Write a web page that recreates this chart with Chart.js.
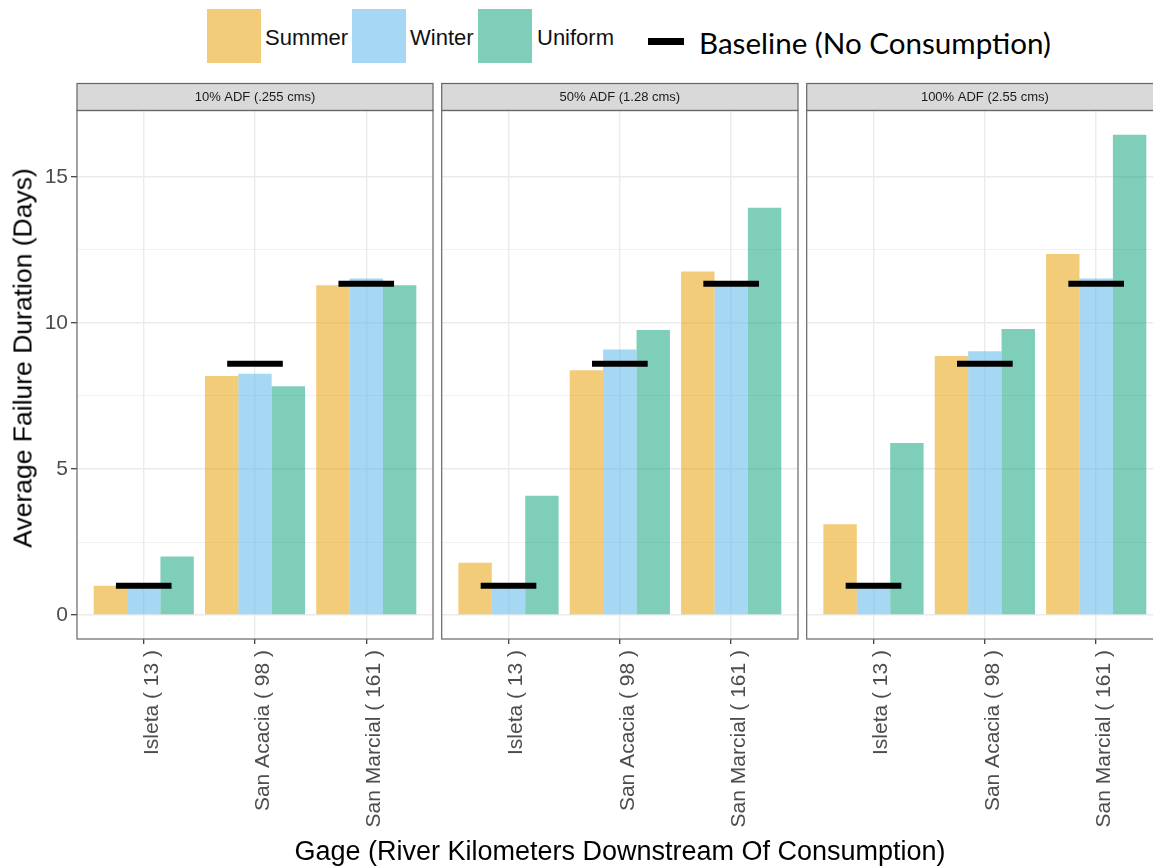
<!DOCTYPE html>
<html lang="en">
<head>
<meta charset="UTF-8" />
<title>Average Failure Duration</title>
<script src="https://cdn.jsdelivr.net/npm/chart.js@4"></script>
<style>
  html, body { margin: 0; padding: 0; background: #fff; }
  body { position: relative; width: 1153px; height: 867px; overflow: hidden;
         font-family: "Liberation Sans", Arial, sans-serif; }
  canvas.panel { position: absolute; top: 80px; }
  .lg-box { position: absolute; top: 9px; width: 54px; height: 54px; }
  .lg-text { position: absolute; top: 10.5px; height: 54px; line-height: 54px;
             font-size: 22px; color: #111; white-space: nowrap; }
  #lg-dash { position: absolute; left: 648px; top: 38px; width: 36px; height: 7px; background: #000; }
  #lg-base { position: absolute; left: 699px; top: 21px; height: 44px; line-height: 44px;
             font-family: Lato, "Open Sans", sans-serif; font-size: 29.6px; color: #000; white-space: nowrap; }
  #ytitle { position: absolute; left: 23px; top: 358px; transform: translate(-50%, -50%) rotate(-90deg);
            font-size: 26.5px; color: #000; white-space: nowrap; }
  #xtitle { position: absolute; left: 620px; top: 835px; transform: translateX(-50%);
            line-height: 32px; font-size: 27px; color: #000; white-space: nowrap; }
</style>
</head>
<body>
<div class="lg-box" style="left:207px; background:rgba(230,159,0,0.53)"></div>
<div class="lg-text" style="left:265px">Summer</div>
<div class="lg-box" style="left:352px; background:rgba(86,180,233,0.53)"></div>
<div class="lg-text" style="left:410px">Winter</div>
<div class="lg-box" style="left:478px; background:rgba(0,158,115,0.5)"></div>
<div class="lg-text" style="left:537px">Uniform</div>
<div id="lg-dash"></div>
<div id="lg-base">Baseline (No Consumption)</div>

<canvas class="panel" id="p1" width="435" height="787" style="left:0px"></canvas>
<canvas class="panel" id="p2" width="360" height="787" style="left:440px"></canvas>
<canvas class="panel" id="p3" width="360" height="787" style="left:805px"></canvas>

<div id="ytitle">Average Failure Duration (Days)</div>
<div id="xtitle">Gage (River Kilometers Downstream Of Consumption)</div>

<script>
// gages along the river, x positions 1..3
const gageX = [1, 2, 3];
const gageLabels = ["Isleta ( 13 )", "San Acacia ( 98 )", "San Marcial ( 161 )"];
const panelTitles = ["10% ADF (.255 cms)", "50% ADF (1.28 cms)", "100% ADF (2.55 cms)"];
const yTicks = [0, 2.5, 5, 7.5, 10, 12.5, 15];

// average failure duration (days) per gage
const summer10 = [1.0, 8.18, 11.29];
const winter10 = [1.0, 8.26, 11.52];
const uniform10 = [2.0, 7.83, 11.29];

const summer50 = [1.79, 8.38, 11.76];
const winter50 = [1.0, 9.09, 11.35];
const uniform50 = [4.08, 9.76, 13.94];

const summer100 = [3.11, 8.87, 12.36];
const winter100 = [1.0, 9.03, 11.52];
const uniform100 = [5.89, 9.79, 16.44];

const baseline = [1.0, 8.6, 11.34];

const summerColor = "rgba(230,159,0,0.53)";
const winterColor = "rgba(86,180,233,0.53)";
const uniformColor = "rgba(0,158,115,0.5)";

Chart.defaults.font.family = '"Liberation Sans", Arial, sans-serif';

// short black dash over each gage
function baselinePoints() {
    const pts = [];
    gageX.forEach((x, i) => {
        pts.push({ x: x - 0.25, y: baseline[i] });
        pts.push({ x: x + 0.25, y: baseline[i] });
        pts.push({ x: x + 0.5, y: null });
    });
    return pts;
}

// facet strip on top and the panel border
const panelFrame = {
    id: "panelFrame",
    afterDraw(chart, args, opts) {
        const { ctx, chartArea: a } = chart;
        const w = a.right - a.left;
        ctx.save();
        ctx.fillStyle = "#d9d9d9";
        ctx.fillRect(a.left, a.top - 27, w, 27);
        ctx.strokeStyle = "#666";
        ctx.lineWidth = 1.2;
        ctx.strokeRect(a.left, a.top - 27, w, 27);
        ctx.strokeRect(a.left, a.top, w, a.bottom - a.top);
        ctx.fillStyle = "#1a1a1a";
        ctx.font = '13px "Liberation Sans", Arial, sans-serif';
        ctx.textAlign = "center";
        ctx.textBaseline = "middle";
        ctx.fillText(opts.text, a.left + w / 2, a.top - 13);
        ctx.restore();
    }
};

function makePanel(id, title, summer, winter, uniform, showY) {
    const bar = (label, data, color) => ({
        label, data, backgroundColor: color, borderWidth: 0,
        categoryPercentage: 0.9, barPercentage: 1.0, order: 1
    });
    new Chart(document.getElementById(id), {
        type: "bar",
        data: {
            labels: gageX,
            datasets: [
                bar("Summer", summer, summerColor),
                bar("Winter", winter, winterColor),
                bar("Uniform", uniform, uniformColor),
                {
                    type: "line", label: "Baseline (No Consumption)", data: baselinePoints(),
                    borderColor: "#000", borderWidth: 6, borderCapStyle: "butt",
                    pointRadius: 0, spanGaps: false, order: 0
                }
            ]
        },
        options: {
            responsive: false,
            animation: false,
            layout: { padding: { top: 30.5, left: showY ? 0 : 1.7, right: 2, bottom: 0 } },
            plugins: {
                legend: { display: false },
                tooltip: { enabled: false },
                panelFrame: { text: title }
            },
            scales: {
                x: {
                    type: "linear", min: 0.4, max: 3.6, offset: false,
                    afterBuildTicks: (s) => { s.ticks = gageX.map((v) => ({ value: v })); },
                    afterFit: (s) => { s.height = 228; },
                    border: { display: false },
                    grid: { offset: false, color: "#ebebeb", lineWidth: 1.4, tickLength: 5, tickColor: "#333", tickWidth: 1.2 },
                    ticks: {
                        autoSkip: false, minRotation: 90, maxRotation: 90, padding: 6, labelOffset: 8,
                        color: "#4d4d4d", font: { size: 21 },
                        callback: (v) => gageLabels[v - 1]
                    }
                },
                y: {
                    min: -0.82, max: 17.27,
                    afterBuildTicks: (s) => { s.ticks = yTicks.map((v) => ({ value: v })); },
                    afterFit: (s) => { s.width = showY ? 77 : 0; },
                    border: { display: false },
                    grid: {
                        color: "#ebebeb",
                        lineWidth: (c) => (c.tick && c.tick.value % 5 === 0 ? 1.4 : 0.7),
                        drawTicks: showY, tickLength: 6, tickWidth: 1.2,
                        tickColor: (c) => (c.tick && c.tick.value % 5 === 0 ? "#333" : "rgba(0,0,0,0)")
                    },
                    ticks: {
                        display: showY, padding: 3, color: "#4d4d4d", font: { size: 21 },
                        callback: (v) => (v % 5 === 0 ? String(v) : "")
                    }
                }
            }
        },
        plugins: [panelFrame]
    });
}

makePanel("p1", panelTitles[0], summer10, winter10, uniform10, true);
makePanel("p2", panelTitles[1], summer50, winter50, uniform50, false);
makePanel("p3", panelTitles[2], summer100, winter100, uniform100, false);
</script>
</body>
</html>
